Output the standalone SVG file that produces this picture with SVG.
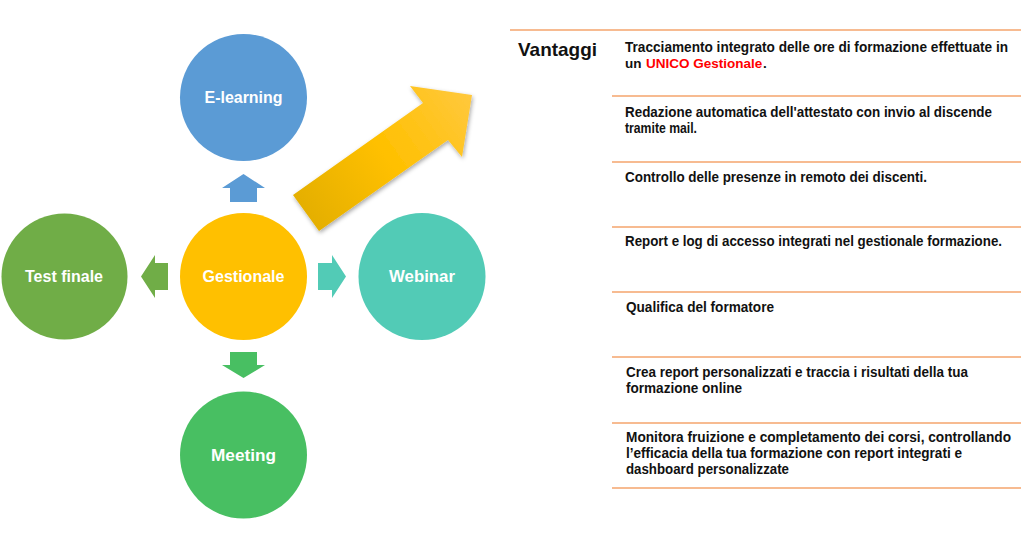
<svg xmlns="http://www.w3.org/2000/svg" width="1024" height="554" viewBox="0 0 1024 554">
<style>
.lbl{font-family:"Liberation Sans",Arial,sans-serif;font-weight:bold;font-size:17px;fill:#fff;text-anchor:middle}
.txt{font-family:"Liberation Sans",Arial,sans-serif;font-weight:bold;font-size:14px;fill:#111}
.sm{font-size:13.5px}
.sep{stroke:#F4A46C;stroke-width:1.5}
.red{fill:#FF0000}
</style>
<defs>
<linearGradient id="ag" gradientUnits="userSpaceOnUse" x1="300" y1="215" x2="470" y2="95">
<stop offset="0" stop-color="#E3AE00"/>
<stop offset="0.5" stop-color="#FFC000"/>
<stop offset="1" stop-color="#FFC83C"/>
</linearGradient>
<filter id="sh" x="-20%" y="-20%" width="140%" height="140%">
<feDropShadow dx="1" dy="2" stdDeviation="2" flood-color="#000" flood-opacity="0.35"/>
</filter>
</defs>
<rect width="1024" height="554" fill="#fff"/>

<g id="connectors">
<polygon fill="#5B9BD5" points="230,202 257,202 257,188 265,188 243.5,174 222,188 230,188"/>
<polygon fill="#52CBB6" points="318,263 332,263 332,255 346,276.5 332,298 332,290 318,290"/>
<polygon fill="#70AD47" points="168,263 155,263 155,255 141,276.5 155,298 155,290 168,290"/>
<polygon fill="#48BF62" points="230,352 257,352 257,365 265,365 243.5,378 222,365 230,365"/>
<polygon id="big-arrow" fill="url(#ag)" filter="url(#sh)" points="293,195 423,103 410,86 472,95 462,157 448,140 319,231"/>
</g>

<g id="node-elearning">
<circle cx="243.5" cy="97.5" r="63.5" fill="#5B9BD5"/>
<text class="lbl" x="243.5" y="103" textLength="78" lengthAdjust="spacingAndGlyphs">E-learning</text>
</g>
<g id="node-gestionale">
<circle cx="243.5" cy="276.5" r="63.5" fill="#FFC000"/>
<text class="lbl" x="243.5" y="282" textLength="82" lengthAdjust="spacingAndGlyphs">Gestionale</text>
</g>
<g id="node-webinar">
<circle cx="422" cy="276.5" r="63.5" fill="#52CBB6"/>
<text class="lbl" x="422" y="282" textLength="66" lengthAdjust="spacingAndGlyphs">Webinar</text>
</g>
<g id="node-testfinale">
<circle cx="64.5" cy="276.5" r="63" fill="#70AD47"/>
<text class="lbl" x="64" y="282" textLength="78" lengthAdjust="spacingAndGlyphs">Test finale</text>
</g>
<g id="node-meeting">
<circle cx="243.5" cy="455" r="63.5" fill="#48BF62"/>
<text class="lbl" x="243.5" y="461" textLength="65" lengthAdjust="spacingAndGlyphs">Meeting</text>
</g>

<g id="table">
<line class="sep" x1="510" y1="30" x2="1021" y2="30"/>
<line class="sep" x1="612" y1="96" x2="1021" y2="96"/>
<line class="sep" x1="612" y1="162" x2="1021" y2="162"/>
<line class="sep" x1="612" y1="227" x2="1021" y2="227"/>
<line class="sep" x1="612" y1="292" x2="1021" y2="292"/>
<line class="sep" x1="612" y1="357" x2="1021" y2="357"/>
<line class="sep" x1="612" y1="423" x2="1021" y2="423"/>
<line class="sep" x1="612" y1="488" x2="1021" y2="488"/>
<text x="518" y="56" font-family="Liberation Sans,Arial,sans-serif" font-weight="bold" font-size="19" fill="#111" textLength="79" lengthAdjust="spacingAndGlyphs">Vantaggi</text>
<text class="txt" x="625" y="52" textLength="383" lengthAdjust="spacingAndGlyphs">Tracciamento integrato delle ore di formazione effettuate in</text>
<text class="txt sm" x="625" y="68">un</text>
<text class="txt sm red" x="646" y="68">UNICO Gestionale</text>
<text class="txt sm" x="763" y="68">.</text>
<text class="txt" x="625" y="117" textLength="367" lengthAdjust="spacingAndGlyphs">Redazione automatica dell'attestato con invio al discende</text>
<text class="txt" x="625" y="133" textLength="72" lengthAdjust="spacingAndGlyphs">tramite mail.</text>
<text class="txt" x="625" y="182" textLength="302" lengthAdjust="spacingAndGlyphs">Controllo delle presenze in remoto dei discenti.</text>
<text class="txt" x="625" y="246" textLength="377" lengthAdjust="spacingAndGlyphs">Report e log di accesso integrati nel gestionale formazione.</text>
<text class="txt" x="626" y="312" textLength="148" lengthAdjust="spacingAndGlyphs">Qualifica del formatore</text>
<text class="txt" x="626" y="377" textLength="342" lengthAdjust="spacingAndGlyphs">Crea report personalizzati e traccia i risultati della tua</text>
<text class="txt" x="626" y="393" textLength="116" lengthAdjust="spacingAndGlyphs">formazione online</text>
<text class="txt" x="626" y="442" textLength="385" lengthAdjust="spacingAndGlyphs">Monitora fruizione e completamento dei corsi, controllando</text>
<text class="txt" x="626" y="458" textLength="336" lengthAdjust="spacingAndGlyphs">l’efficacia della tua formazione con report integrati e</text>
<text class="txt" x="626" y="474" textLength="163" lengthAdjust="spacingAndGlyphs">dashboard personalizzate</text>
</g>
</svg>
